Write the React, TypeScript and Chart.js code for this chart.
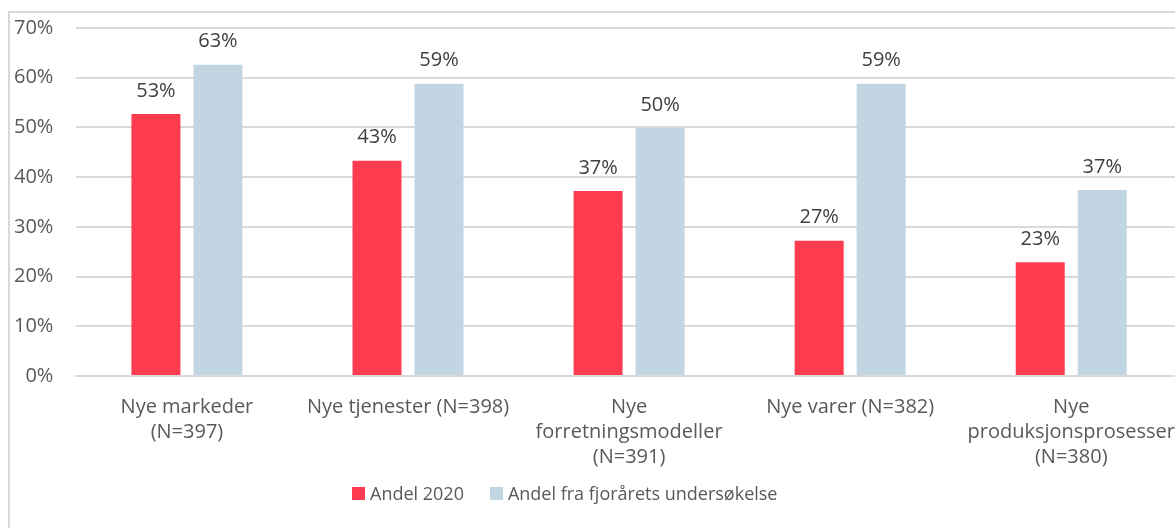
import React, { useEffect, useRef } from "react";
import { Chart, registerables } from "chart.js";

Chart.register(...registerables);

const categories: string[][] = [
  ["Nye markeder", "(N=397)"],
  ["Nye tjenester (N=398)"],
  ["Nye", "forretningsmodeller", "(N=391)"],
  ["Nye varer (N=382)"],
  ["Nye", "produksjonsprosesser", "(N=380)"],
];
const seriesNames = ["Andel 2020", "Andel fra fjorårets undersøkelse"];
const andel2020 = [52.7, 43.3, 37.2, 27.2, 22.9];
const andelFjor = [62.6, 58.8, 49.9, 58.8, 37.4];
const seriesColors = ["#FF3B50", "#C1D6E2"];
const FONT = "'Open Sans', sans-serif";
const AXIS_SIZE = 20;

const dataLabelPlugin = {
  id: "dataLabels",
  afterDatasetsDraw(chart: any) {
    const ctx = chart.ctx;
    ctx.save();
    ctx.font = `${AXIS_SIZE}px ${FONT}`;
    ctx.fillStyle = "#404040";
    ctx.textAlign = "center";
    ctx.textBaseline = "bottom";
    chart.data.datasets.forEach((ds: any, i: number) => {
      const meta = chart.getDatasetMeta(i);
      meta.data.forEach((bar: any, j: number) => {
        ctx.fillText(Math.round(ds.data[j]) + "%", bar.x, bar.y - 13);
      });
    });
    ctx.restore();
  },
};

export default function App() {
  const ref = useRef<HTMLCanvasElement>(null);
  useEffect(() => {
    const chart = new Chart(ref.current!, {
      type: "bar",
      data: {
        labels: categories,
        datasets: [
          { label: seriesNames[0], data: andel2020, backgroundColor: seriesColors[0] },
          { label: seriesNames[1], data: andelFjor, backgroundColor: seriesColors[1] },
        ],
      },
      options: {
        animation: false,
        responsive: false,
        maintainAspectRatio: false,
        layout: { padding: { left: 0, top: 0, right: 0, bottom: -4 } },
        datasets: { bar: { categoryPercentage: 0.561, barPercentage: 0.79 } },
        plugins: { legend: { display: false }, tooltip: { enabled: false } },
        scales: {
          x: {
            grid: { display: false, drawTicks: false },
            border: { color: "#d9d9d9", width: 2 },
            ticks: {
              color: "#595959",
              font: { family: FONT, size: AXIS_SIZE, lineHeight: 1.25 },
              padding: 19,
              maxRotation: 0,
              autoSkip: false,
            },
          },
          y: {
            min: 0,
            max: 70,
            grid: { color: "#d9d9d9", lineWidth: 2, drawTicks: false },
            border: { display: false },
            ticks: {
              stepSize: 10,
              color: "#595959",
              font: { family: FONT, size: AXIS_SIZE },
              padding: 23,
              callback: (v: any) => v + "%",
            },
          },
        },
      },
      plugins: [dataLabelPlugin],
    });
    return () => chart.destroy();
  }, []);

  return (
    <div style={{ position: "fixed", left: 0, top: 0, width: 1175, height: 528, overflow: "hidden", background: "#fff" }}>
      <div
        style={{
          position: "absolute",
          left: 8,
          top: 11,
          width: 1200,
          height: 517,
          borderLeft: "2px solid #d9d9d9",
          borderTop: "2px solid #d9d9d9",
        }}
      >
        <canvas
          ref={ref}
          width={1203}
          height={492}
          style={{ display: "block", position: "absolute", left: -19, top: -20 }}
        />
      </div>
      <div
        style={{
          position: "absolute",
          left: 352,
          top: 481,
          display: "flex",
          alignItems: "center",
          fontFamily: FONT,
          fontSize: 18,
          color: "#595959",
        }}
      >
        {seriesNames.map((n, i) => (
          <div key={n} style={{ display: "flex", alignItems: "center", marginRight: i === 0 ? 26 : 0 }}>
            <span style={{ width: 13, height: 13, background: seriesColors[i], marginRight: 5, display: "inline-block" }} />
            <span>{n}</span>
          </div>
        ))}
      </div>
    </div>
  );
}
